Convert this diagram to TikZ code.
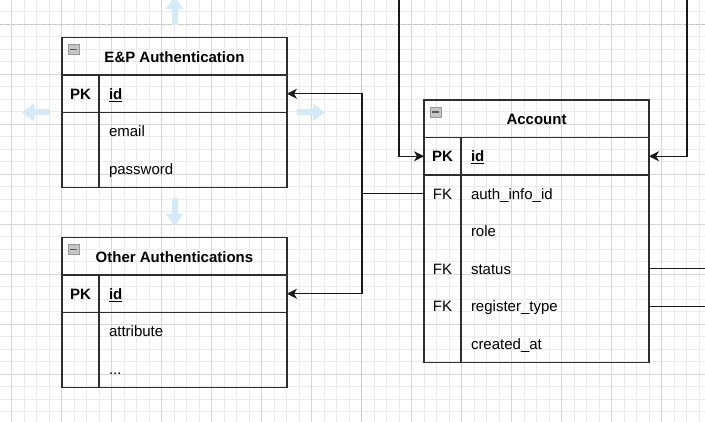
\documentclass[tikz,border=0pt]{standalone}
\usepackage{fontspec}
\setmainfont{Liberation Sans}
\usetikzlibrary{shapes,arrows,arrows.meta,positioning,calc}
\usepackage{xcolor}
\definecolor{gridfine}{HTML}{EBEBEB}
\definecolor{gridbold}{HTML}{D6D6D6}
\definecolor{pagebreak}{HTML}{C4C4C4}
\definecolor{hoverblue}{HTML}{D3EBF9}
\definecolor{tableline}{HTML}{2E2E2E}

\begin{document}
\begin{tikzpicture}[x=1pt,y=-1pt]
\tikzstyle{tabtitle} = [rectangle, minimum width=225pt, minimum height=37.5pt, inner sep=0pt, outer sep=0pt, text centered, text height=13pt, text depth=0.5pt, draw=tableline, line width=1.2pt, font=\fontsize{15}{18}\selectfont\bfseries]
\tikzstyle{field} = [rectangle, minimum height=37.5pt, text width=131pt, inner xsep=47pt, inner ysep=0pt, outer sep=0pt, align=left, text height=12.5pt, text depth=1pt, font=\fontsize{15}{18}\selectfont]
\tikzstyle{keyfield} = [field, draw=tableline, line width=1.2pt, font=\fontsize{15}{18}\selectfont\bfseries]
\tikzstyle{fktag} = [inner sep=0pt, text height=12.5pt, text depth=1pt, font=\fontsize{15}{18}\selectfont]
\tikzstyle{pktag} = [fktag, font=\fontsize{15}{18}\selectfont\bfseries]
\tikzstyle{frame} = [draw=tableline, line width=1.2pt]
\tikzstyle{arrow} = [line width=1.2pt, draw=black!90, -{Stealth[length=10pt,width=10pt,inset=3pt]}]
\tikzstyle{link} = [line width=1.2pt, draw=black!90]
\tikzstyle{hover} = [line width=6pt, draw=hoverblue, -{Triangle[length=12pt,width=17pt]}]

\clip (0,0) rectangle (705,422);

% grid
\foreach \i in {0,...,56} \draw[gridfine, line width=0.8pt] ({11.7+12.5*\i},0) -- ++(0,422);
\foreach \i in {0,...,34} \draw[gridfine, line width=0.8pt] (0,{-1+12.5*\i}) -- ++(705,0);
\foreach \i in {0,...,13} \draw[gridbold, line width=0.8pt] ({11.7+50*\i},0) -- ++(0,422);
\foreach \i in {0,...,8} \draw[gridbold, line width=0.8pt] (0,{24+50*\i}) -- ++(705,0);
\draw[pagebreak, line width=0.8pt, dash pattern=on 3pt off 3pt] (0,24.5) -- (705,24.5);
\draw[pagebreak, line width=0.8pt, dash pattern=on 3pt off 3pt] (361.7,24.5) -- (361.7,422);

% E&P Authentication
\node (epTitle) [tabtitle] at (174.5,56.25) {E\&P Authentication};
\node (epId) [keyfield, below=0pt of epTitle] {\underline{id}};
\node (epEmail) [field, below=0pt of epId] {email};
\node (epPass) [field, below=0pt of epEmail] {password};
\node (epIdKey) [pktag] at ($(epId.west)+(18.5,0)$) {PK};
\draw[frame] (epTitle.north west) rectangle (epPass.south east);
\draw[frame] ($(epId.north west)+(37,0)$) -- ($(epPass.south west)+(37,0)$);

% Other Authentications
\node (otherTitle) [tabtitle] at (174.5,256.25) {Other Authentications};
\node (otherId) [keyfield, below=0pt of otherTitle] {\underline{id}};
\node (otherAttr) [field, below=0pt of otherId] {attribute};
\node (otherMore) [field, below=0pt of otherAttr] {...};
\node (otherIdKey) [pktag] at ($(otherId.west)+(18.5,0)$) {PK};
\draw[frame] (otherTitle.north west) rectangle (otherMore.south east);
\draw[frame] ($(otherId.north west)+(37,0)$) -- ($(otherMore.south west)+(37,0)$);

% Account
\node (accTitle) [tabtitle] at (536.5,118.75) {Account};
\node (accId) [keyfield, below=0pt of accTitle] {\underline{id}};
\node (accAuth) [field, below=0pt of accId] {auth\_info\_id};
\node (accRole) [field, below=0pt of accAuth] {role};
\node (accStatus) [field, below=0pt of accRole] {status};
\node (accReg) [field, below=0pt of accStatus] {register\_type};
\node (accCreated) [field, below=0pt of accReg] {created\_at};
\node (accIdKey) [pktag] at ($(accId.west)+(18.5,0)$) {PK};
\node (accAuthKey) [fktag] at ($(accAuth.west)+(18.5,0)$) {FK};
\node (accStatusKey) [fktag] at ($(accStatus.west)+(18.5,0)$) {FK};
\node (accRegKey) [fktag] at ($(accReg.west)+(18.5,0)$) {FK};
\draw[frame] (accTitle.north west) rectangle (accCreated.south east);
\draw[frame] ($(accId.north west)+(37,0)$) -- ($(accCreated.south west)+(37,0)$);

% collapse icons
\foreach \t in {epTitle,otherTitle,accTitle} {
  \draw[draw=gray!80, fill=gray!45] ($(\t.north west)+(6,7)$) rectangle ++(11,10);
  \draw[line width=1.2pt, draw=black!65] ($(\t.north west)+(8,12)$) -- ++(7,0);
}

% hover arrows
\draw[hover] ($(epTitle.north)+(0,-12.5)$) -- ++(0,-28);
\draw[hover] ($(epPass.south)+(0,10.5)$) -- ++(0,28);
\draw[hover] ($(epId.south west)+(-12,0)$) -- ++(-28,0);
\draw[hover] ($(epId.south east)+(10,0)$) -- ++(28,0);

% relations
\coordinate (authSplit) at ($(accAuth.west)+(-62,0)$);
\draw[arrow] (accAuth.west) -- (authSplit) |- (epId.east);
\draw[arrow] (authSplit) |- (otherId.east);
\coordinate (accInLeft) at (399,0);
\coordinate (accInRight) at (687,0);
\coordinate (rightEdge) at (705,0);
\draw[arrow] (accInLeft) |- (accId.west);
\draw[arrow] (accInRight) |- (accId.east);
\draw[link] (accStatus.east) -- (accStatus.east -| rightEdge);
\draw[link] (accReg.east) -- (accReg.east -| rightEdge);

\end{tikzpicture}
\end{document}
